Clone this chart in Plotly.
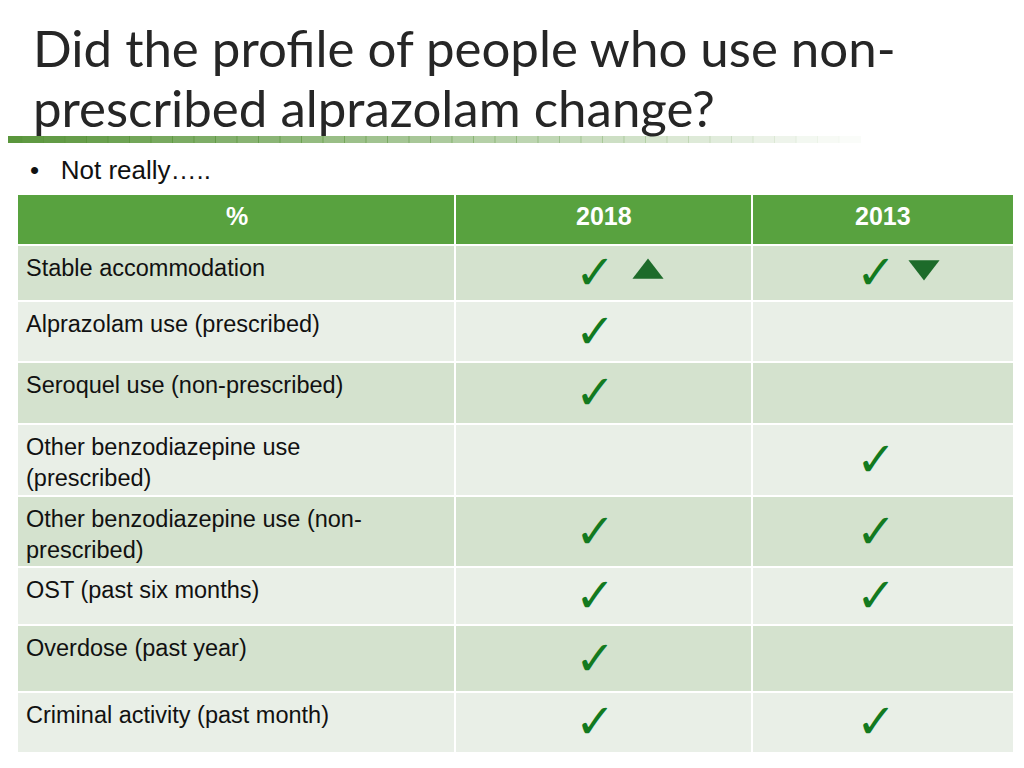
import plotly.graph_objects as go

title_lines = ["Did the profile of people who use non-", "prescribed alprazolam change?"]
bullet = "Not really….."
headers = ["%", "2018", "2013"]
rows = ["Stable accommodation", "Alprazolam use (prescribed)", "Seroquel use (non-prescribed)",
        "Other benzodiazepine use<br>(prescribed)", "Other benzodiazepine use (non-<br>prescribed)",
        "OST (past six months)", "Overdose (past year)", "Criminal activity (past month)"]
check_2018 = [True, True, True, False, True, True, True, True]
check_2013 = [True, False, False, True, True, True, False, True]
trend_2018 = ["up", None, None, None, None, None, None, None]
trend_2013 = ["down", None, None, None, None, None, None, None]

# layout (pixels)
col_edges = [18, 455, 752, 1013]
header_top, header_bot = 195, 245
row_bounds = [245, 301, 362, 424, 496, 567, 625, 692, 752]

fig = go.Figure()
shapes, ann = [], []
GREEN = "#58A23F"
shapes.append(dict(type="rect", x0=col_edges[0], x1=col_edges[-1], y0=header_top, y1=header_bot,
                   fillcolor=GREEN, line=dict(width=0), layer="below"))
for i, h in enumerate(headers):
    ann.append(dict(x=(col_edges[i]+col_edges[i+1])/2, y=(header_top+header_bot)/2-4, text=f"<b>{h}</b>",
                    showarrow=False, font=dict(family="Liberation Sans", size=25, color="white")))
for r, label in enumerate(rows):
    y0, y1 = row_bounds[r], row_bounds[r+1]
    shapes.append(dict(type="rect", x0=col_edges[0], x1=col_edges[-1], y0=y0, y1=y1,
                       fillcolor="#D4E2CE" if r % 2 == 0 else "#E9EFE7", line=dict(width=0), layer="below"))
    ann.append(dict(x=24, y=y0+8, text=label, xanchor="left", yanchor="top", align="left", showarrow=False,
                    font=dict(family="Liberation Sans", size=23.5, color="#111")))
for x in col_edges[1:-1]:
    shapes.append(dict(type="line", x0=x, x1=x, y0=header_top, y1=row_bounds[-1], line=dict(color="white", width=2)))
for y in row_bounds[:-1]:
    shapes.append(dict(type="line", x0=col_edges[0], x1=col_edges[-1], y0=y, y1=y, line=dict(color="white", width=2)))

def mids(flags):
    return [(row_bounds[i]+row_bounds[i+1])/2+4 for i, f in enumerate(flags) if f]

for flags, cx in [(check_2018, 595), (check_2013, 876)]:
    ys = mids(flags)
    fig.add_trace(go.Scatter(x=[cx]*len(ys), y=ys, mode="text", text=["✓"]*len(ys),
                             textfont=dict(size=48, color="#137A1F", family="DejaVu Sans"), hoverinfo="skip"))
for trend, cx in [(trend_2018, 648), (trend_2013, 924)]:
    for i, t in enumerate(trend):
        if t:
            y = (row_bounds[i]+row_bounds[i+1])/2 + (-1 if t == "up" else -6)
            fig.add_trace(go.Scatter(x=[cx], y=[y], mode="markers",
                                     marker=dict(symbol="triangle-up" if t == "up" else "triangle-down",
                                                 size=27, color="#1D6B2A"), hoverinfo="skip"))

for i, line in enumerate(title_lines):
    ann.append(dict(x=31, y=47+60*i, text=line, xanchor="left", yanchor="middle", showarrow=False,
                    font=dict(family="Lato", size=51, color="#262626")))
n = 40
for k in range(n):
    a = 1 - k/n
    shapes.append(dict(type="rect", x0=k*860/n, x1=(k+1)*860/n+1, y0=136, y1=143,
                       fillcolor=f"rgba(90,150,60,{a:.2f})", line=dict(width=0)))
ann.append(dict(x=28, y=170, text="•   " + bullet, xanchor="left", yanchor="middle", showarrow=False,
                font=dict(family="Liberation Sans", size=26, color="#111")))

fig.update_layout(width=1024, height=768, margin=dict(l=0, r=0, t=0, b=0), showlegend=False,
                  plot_bgcolor="white", paper_bgcolor="white", shapes=shapes, annotations=ann,
                  xaxis=dict(range=[8, 1032], visible=False, fixedrange=True),
                  yaxis=dict(range=[776, 8], visible=False, fixedrange=True))
fig.write_html("out.html", config={"displayModeBar": False})
